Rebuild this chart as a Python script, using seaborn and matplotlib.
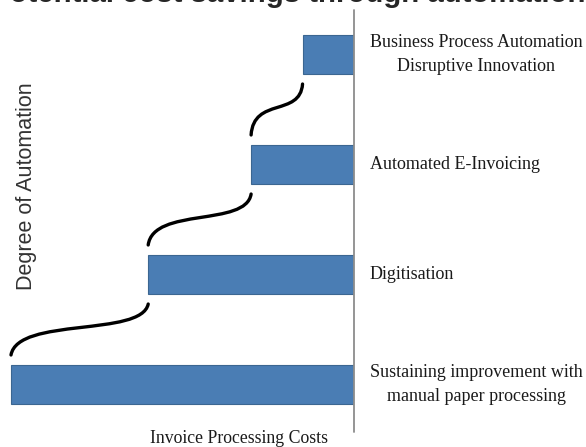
import matplotlib
matplotlib.use("Agg")
import matplotlib.pyplot as plt
from matplotlib.path import Path
from matplotlib.patches import PathPatch
import pandas as pd
import seaborn as sns

# Stages of invoice automation, from most to least automated
stages = [
    "Business Process Automation\nDisruptive Innovation",
    "Automated E-Invoicing",
    "Digitisation",
    "Sustaining improvement with\nmanual paper processing",
]
# Relative invoice processing cost for each stage
costs = [15, 30, 60, 100]

title = "Potential cost savings through automation"
x_label = "Invoice Processing Costs"
y_label = "Degree of Automation"

sns.set_style("white")
plt.rcParams["font.family"] = ["Liberation Serif", "DejaVu Serif"]

W, H = 586, 447
fig = plt.figure(figsize=(W / 100, H / 100), dpi=100)
axis_px = 354
ax = fig.add_axes([0, 0, axis_px / W, 1])

df = pd.DataFrame({"stage": stages, "cost": costs})
bar_w = 0.355
sns.barplot(data=df, x="cost", y="stage", orient="h", color="#4a7db4",
            saturation=1, width=bar_w, edgecolor="#3b6691", linewidth=0.8, ax=ax)

px_per_unit = 3.43
ax.set_xlim(axis_px / px_per_unit, 0)
ax.set_ylim((H - 54.5) / 110, -54.5 / 110)
ax.set_xticks([])
ax.set_yticks([])
ax.set_xlabel("")
ax.set_ylabel("")
for s in ax.spines.values():
    s.set_visible(False)

# Vertical cost axis on the right of the bars
ax.axvline(0, ymin=(H - 432) / H, ymax=(H - 10) / H, color="#8c8c8c", lw=1.3,
           clip_on=False)

# Stage labels to the right of the axis
for i, lab in enumerate(stages):
    ax.annotate(lab, xy=(1, i), xycoords=("axes fraction", "data"),
                xytext=(16 * 0.72, 0), textcoords="offset points",
                ha="left", va="center", multialignment="center",
                linespacing=1.5, fontsize=13, color="#1a1a1a",
                annotation_clip=False)

# S-shaped connectors climbing from each bar to the next stage
gap = 10 / 110
half = bar_w / 2
for i in range(len(costs) - 1):
    x0, y0 = costs[i + 1], (i + 1) - half - gap
    x1, y1 = costs[i], i + half + gap
    dx, dy = x1 - x0, y1 - y0
    verts = [(x0, y0),
             (x0 + 0.05 * dx, y0 + 0.75 * dy),
             (x0 + 0.95 * dx, y0 + 0.35 * dy),
             (x1, y1)]
    path = Path(verts, [Path.MOVETO, Path.CURVE4, Path.CURVE4, Path.CURVE4])
    ax.add_patch(PathPatch(path, fill=False, color="black", lw=2.4,
                           capstyle="round", clip_on=False))

fig.text(288 / W, 1 - 2.5 / H, title, ha="center", va="baseline",
         fontsize=21.2, fontweight="bold", family="Liberation Sans",
         color="#262626")
fig.text(27 / W, 1 - 186 / H, y_label, rotation=90, ha="center", va="center",
         fontsize=15.5, family="Liberation Sans", color="#333333")
fig.text(239 / W, 1 - 443 / H, x_label, ha="center", va="baseline",
         fontsize=12.8, color="#1a1a1a")

fig.savefig("out.png", dpi=100)
